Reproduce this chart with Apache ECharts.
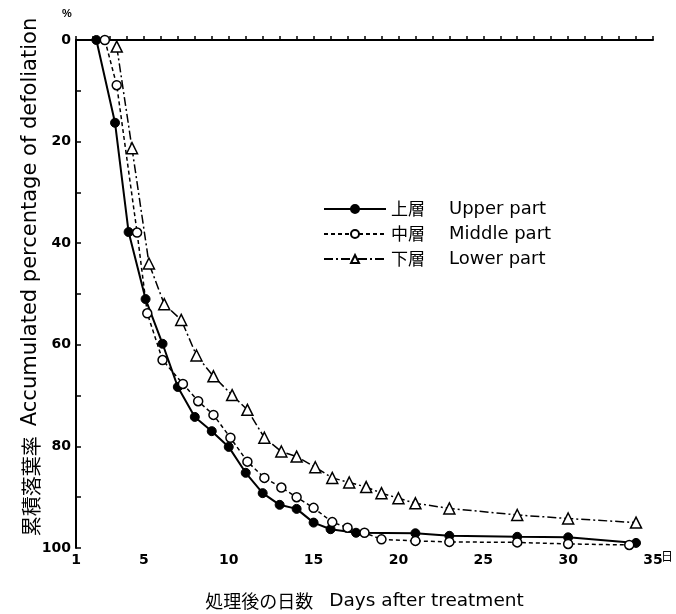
<!DOCTYPE html>
<html>
<head>
<meta charset="utf-8">
<script src="https://cdn.jsdelivr.net/npm/echarts@6/dist/echarts.min.js"></script>
<style>
  html, body { margin: 0; padding: 0; background: #fff; }
  #chart { width: 676px; height: 614px; }
</style>
</head>
<body>
<div id="chart"></div>
<script>
    // 日数 / 累積落葉率(%)
    var upperX = [2.2, 3.3, 4.1, 5.1, 6.1, 7, 8, 9, 10, 11, 12, 13, 14, 15, 16, 17.5, 21, 23, 27, 30, 34];
    var upperY = [0, 16.3, 37.8, 51, 59.8, 68.3, 74.2, 77, 80.1, 85.2, 89.2, 91.5, 92.3, 95, 96.3, 97, 97.1, 97.6, 97.8, 97.9, 99];
    var middleX = [2.7, 3.4, 4.6, 5.2, 6.1, 7.3, 8.2, 9.1, 10.1, 11.1, 12.1, 13.1, 14, 15, 16.1, 17, 18, 19, 21, 23, 27, 30, 33.6];
    var middleY = [0, 8.9, 37.9, 53.8, 63, 67.7, 71.1, 73.8, 78.3, 83, 86.2, 88.1, 90, 92.1, 94.9, 96, 97, 98.3, 98.6, 98.8, 98.9, 99.2, 99.4];
    var lowerX = [3.4, 4.3, 5.3, 6.2, 7.2, 8.1, 9.1, 10.2, 11.1, 12.1, 13.1, 14, 15.1, 16.1, 17.1, 18.1, 19, 20, 21, 23, 27, 30, 34];
    var lowerY = [1.3, 21.3, 44, 52, 55.1, 62.1, 66.2, 69.9, 72.8, 78.3, 81, 82, 84.1, 86.2, 87.1, 88, 89.2, 90.2, 91.2, 92.2, 93.5, 94.2, 95];

    var seriesNames = ['上層', '中層', '下層'];
    var seriesEng = ['Upper part', 'Middle part', 'Lower part'];
    var xLabels = [1, 5, 10, 15, 20, 25, 30, 35];
    var xTicks = [];
    for (var d = 1; d <= 35; d++) xTicks.push(d);

    function pairs(xs, ys) {
        return xs.map(function (x, i) { return [x, ys[i]]; });
    }

    var myChart = echarts.init(document.getElementById('chart'));
    var latin = 'DejaVu Sans, sans-serif';
    var cjk = 'Noto Sans CJK JP';
    var labelFont = { color: '#000', fontSize: 14, fontWeight: 'bold', fontFamily: latin };

    var option = {
        backgroundColor: '#fff',
        animation: false,
        grid: { left: 76, right: 23, top: 40, bottom: 66, containLabel: false, outerBoundsMode: 'none' },
        legend: {
            orient: 'vertical',
            left: 318,
            top: 195,
            itemWidth: 62,
            itemHeight: 10,
            itemGap: 7,
            data: seriesNames,
            formatter: function (name) {
                return '{j|' + name + '}{e|' + seriesEng[seriesNames.indexOf(name)] + '}';
            },
            textStyle: {
                color: '#000',
                rich: {
                    j: { fontSize: 17, width: 58, fontFamily: cjk, color: '#000' },
                    e: { fontSize: 18, fontFamily: latin, color: '#000' }
                }
            }
        },
        xAxis: {
            type: 'value',
            min: 1,
            max: 35,
            name: '{j|処理後の日数}{e|Days after treatment}',
            nameLocation: 'middle',
            nameGap: 44,
            nameTextStyle: {
                color: '#000',
                rich: {
                    j: { fontSize: 18, fontFamily: cjk, color: '#000', padding: [0, 16, 0, 0] },
                    e: { fontSize: 18.5, fontFamily: latin, color: '#000' }
                }
            },
            axisLine: { lineStyle: { color: '#000', width: 2 } },
            axisTick: { inside: true, length: 4, customValues: xTicks, lineStyle: { color: '#000', width: 1.5 } },
            axisLabel: Object.assign({ customValues: xLabels, margin: 5 }, labelFont),
            splitLine: { show: false }
        },
        yAxis: {
            type: 'value',
            min: 0,
            max: 100,
            interval: 20,
            inverse: true,
            axisLine: { lineStyle: { color: '#000', width: 2 } },
            axisTick: { inside: true, length: 5, lineStyle: { color: '#000', width: 1.5 } },
            minorTick: { show: true, splitNumber: 2, length: 5, lineStyle: { color: '#000', width: 1.5 } },
            axisLabel: Object.assign({ margin: 5 }, labelFont),
            splitLine: { show: false }
        },
        graphic: [
            { type: 'text', left: 62, top: 8, style: { text: '%', fontSize: 11, fontWeight: 'bold', fill: '#000' } },
            { type: 'text', left: 661, top: 550, style: { text: '日', fontSize: 12, fill: '#000', fontFamily: cjk } },
            {
                type: 'text', x: 31, y: 277, rotation: Math.PI / 2, origin: [0, 0],
                style: {
                    text: '{j|累積落葉率}{e|Accumulated percentage of defoliation}',
                    align: 'center', verticalAlign: 'middle',
                    rich: {
                        j: { fontSize: 20, fontFamily: cjk, fill: '#000', padding: [0, 10, 0, 0] },
                        e: { fontSize: 21, fontFamily: latin, fill: '#000' }
                    }
                }
            }
        ],
        series: [
            {
                name: seriesNames[0], type: 'line', data: pairs(upperX, upperY),
                symbol: 'circle', symbolSize: 9,
                lineStyle: { color: '#000', width: 2, type: 'solid' },
                itemStyle: { color: '#000', borderColor: '#000', borderWidth: 1 }
            },
            {
                name: seriesNames[1], type: 'line', data: pairs(middleX, middleY),
                symbol: 'circle', symbolSize: 9,
                lineStyle: { color: '#000', width: 1.5, type: [4, 3] },
                itemStyle: { color: '#fff', borderColor: '#000', borderWidth: 1.5 }
            },
            {
                name: seriesNames[2], type: 'line', data: pairs(lowerX, lowerY),
                symbol: 'triangle', symbolSize: 11,
                lineStyle: { color: '#000', width: 1.5, type: [9, 3, 2, 3] },
                itemStyle: { color: '#fff', borderColor: '#000', borderWidth: 1.5 }
            }
        ]
    };

    myChart.setOption(option);
</script>
</body>
</html>
